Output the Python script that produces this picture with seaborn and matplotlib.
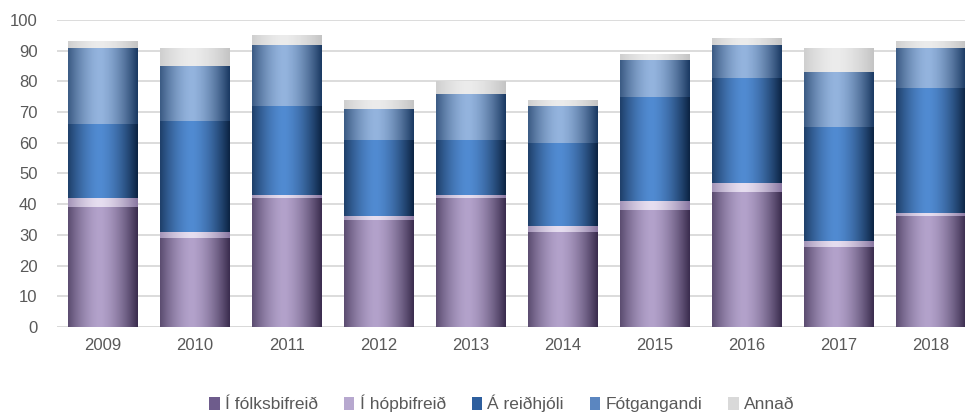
import numpy as np
import pandas as pd
import seaborn as sns
import matplotlib
matplotlib.use("Agg")
from matplotlib import pyplot as plt
from matplotlib.colors import LinearSegmentedColormap
from matplotlib.patches import Patch

years = ["2009", "2010", "2011", "2012", "2013", "2014", "2015", "2016", "2017", "2018"]
folksbifreid = [39, 29, 42, 35, 42, 31, 38, 44, 26, 36]
hopbifreid = [3, 2, 1, 1, 1, 2, 3, 3, 2, 1]
reidhjoli = [24, 36, 29, 25, 18, 27, 34, 34, 37, 41]
fotgangandi = [25, 18, 20, 10, 15, 12, 12, 11, 18, 13]
annad = [2, 6, 3, 3, 4, 2, 2, 2, 8, 2]

labels = ["Í fólksbifreið", "Í hópbifreið", "Á reiðhjóli", "Fótgangandi", "Annað"]
series = [folksbifreid, hopbifreid, reidhjoli, fotgangandi, annad]
# (edge colour, centre colour, legend colour)
shades = [
    ("#3b2d4f", "#b3a2cb", "#6e5c8c"),
    ("#8a78a2", "#e6def0", "#b7a8cf"),
    ("#0c2444", "#518bd2", "#2e5f9e"),
    ("#1b3a63", "#94b4de", "#5b86c0"),
    ("#c4c4c4", "#ececec", "#d9d9d9"),
]

sns.set_theme(style="white")
plt.rcParams["font.family"] = ["Liberation Sans", "DejaVu Sans"]

fig = plt.figure(figsize=(9.65, 4.16), dpi=100)
ax = fig.add_axes([0.059, 0.214, 0.941, 0.738])

# horizontal "cylinder" shading profile
t = np.linspace(0, 1, 64)
profile = np.clip(1 - np.abs((t - 0.45) / 0.55) ** 1.6, 0, 1)
grad = profile[np.newaxis, :]

bottom = np.zeros(len(years))
for lab, vals, (edge, centre, _) in zip(labels, series, shades):
    df = pd.DataFrame({"Ár": years, "Fjöldi": vals})
    sns.barplot(data=df, x="Ár", y="Fjöldi", order=years, color=centre,
                bottom=bottom, width=0.76, ax=ax, linewidth=0, zorder=2)
    cmap = LinearSegmentedColormap.from_list(lab, [edge, centre])
    for rect in ax.containers[-1]:
        x0, y0 = rect.get_x(), rect.get_y()
        x1, y1 = x0 + rect.get_width(), y0 + rect.get_height()
        im = ax.imshow(grad, cmap=cmap, extent=[x0, x1, y0, y1], aspect="auto",
                       interpolation="bicubic", vmin=0, vmax=1, zorder=2.5)
        im.set_clip_path(rect)
    bottom = bottom + np.array(vals)

ax.set_xlim(-0.5, 9.37)
ax.set_ylim(0, 100)
ax.set_yticks(range(0, 101, 10))
ax.set_xlabel("")
ax.set_ylabel("")
ax.yaxis.grid(True, color="#d9d9d9", linewidth=1.3, zorder=0)
ax.set_axisbelow(True)
for s in ax.spines.values():
    s.set_visible(False)
ax.axhline(0, color="#d9d9d9", linewidth=1.3, zorder=1)
ax.tick_params(axis="both", length=0, labelsize=12, colors="#595959")
ax.tick_params(axis="y", pad=14)
ax.tick_params(axis="x", pad=8)

handles = [Patch(facecolor=c[2], edgecolor="none") for c in shades]
fig.legend(handles, labels, loc="center", bbox_to_anchor=(0.52, 0.03), ncol=5,
           frameon=False, fontsize=12.5, handlelength=0.6, handleheight=0.8,
           handletextpad=0.3, columnspacing=1.5, labelcolor="#595959")

fig.savefig("out.png", dpi=100)
